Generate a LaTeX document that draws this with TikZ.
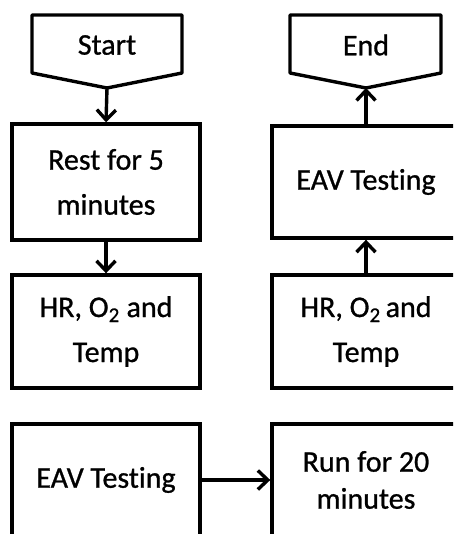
\documentclass[tikz,border=0pt]{standalone}
\usepackage{fontspec}
\setmainfont{Carlito}[Ligatures=NoCommon,FakeBold=0.9]
\usetikzlibrary{arrows.meta}
\begin{document}
\begin{tikzpicture}[x=1pt,y=-1pt,line width=3.4pt,
  txt/.style={font=\fontsize{30}{45}\selectfont,align=center,inner sep=0pt},
  box/.style={txt,draw,minimum width=188pt,minimum height=#1},
  box/.default=116pt,
  flow/.style={-{Straight Barb[length=10pt,width=19pt,line width=3.4pt]},line width=3.4pt}]
  \useasboundingbox (0,0) rectangle (453,534);
  \clip (0,0) rectangle (453,534);

  % terminals drawn as downward-pointing pentagons
  \draw[line join=round] (32,15) -- (182,15) -- (182,73) -- (107,88) -- (32,73) -- cycle;
  \coordinate (starttip) at (107,88);
  \node[txt] (start) at (107,45) {Start};
  \draw[line join=round] (290,15) -- (441,15) -- (441,73) -- (366,88) -- (290,73) -- cycle;
  \coordinate (endtip) at (366,88);
  \node[txt] (end) at (366,45) {End};

  % left column
  \node[box] (rest) at (106,182) {Rest for 5\\minutes};
  \node[box=113pt] (hr1) at (106,331.5) {HR, O\textsubscript{2} and\\Temp};
  \node[box=112pt] (eav1) at (106,480) {EAV Testing};

  % right column
  \node[box=112pt,font=\fontsize{30}{37}\selectfont] (run) at (366,480) {Run for 20\\minutes};
  \node[box=113pt] (hr2) at (366,331.5) {HR, O\textsubscript{2}\,and\\Temp};
  \node[box=112pt] (eav2) at (366,182) {EAV Testing};

  % connectors
  \draw[flow] (starttip) -- (rest.north);
  \draw[flow] (rest.south) -- (hr1.north);
  \draw[flow] (eav1.east) -- (run.west);
  \draw[flow] (hr2.north) -- (eav2.south);
  \draw[flow] (eav2.north) -- (endtip);
\end{tikzpicture}
\end{document}
